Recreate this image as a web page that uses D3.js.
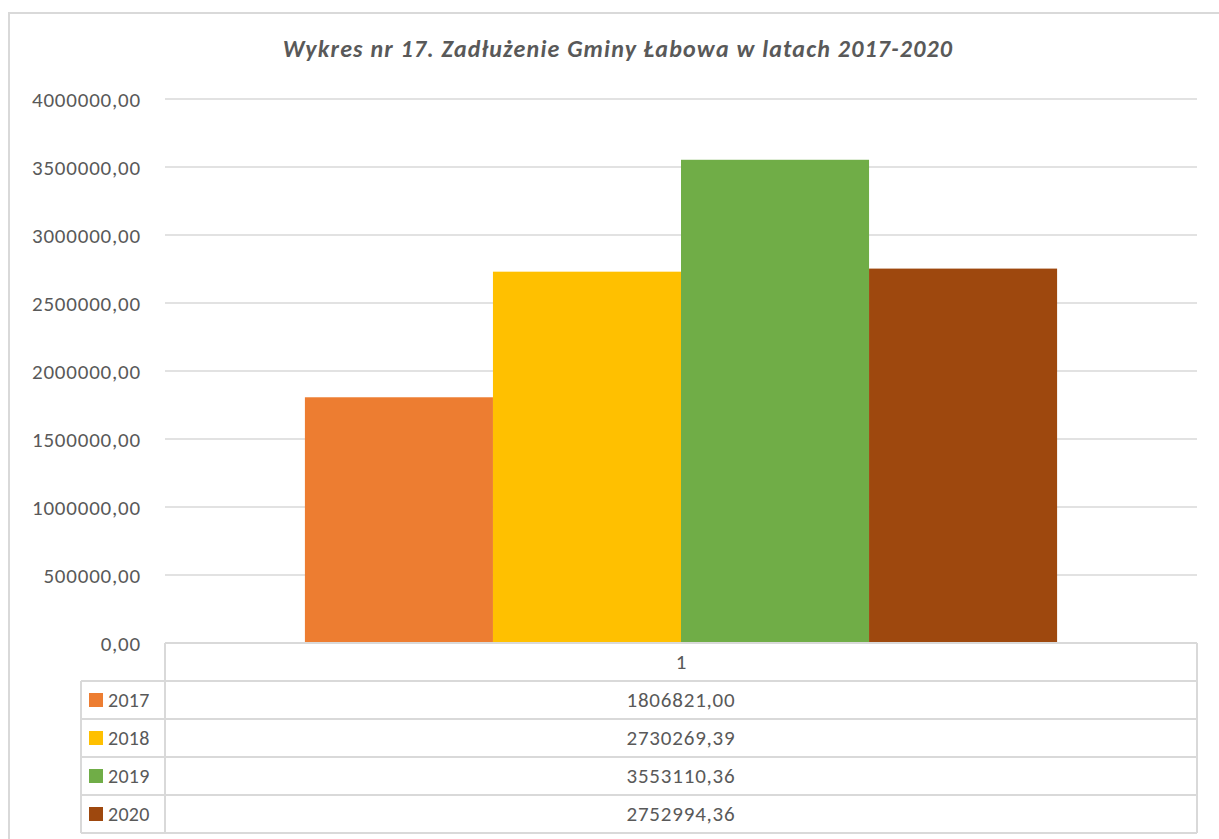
<!DOCTYPE html>
<html><head><meta charset="utf-8">
<script src="https://cdn.jsdelivr.net/npm/d3@7"></script>
<style>body{margin:0;background:#fff;}svg{display:block;}</style>
</head><body>
<svg id="c" width="1219" height="839"></svg>
<script>
const title = "Wykres nr 17. Zadłużenie Gminy Łabowa w latach 2017-2020";
const categories = ["1"];
const seriesNames = ["2017", "2018", "2019", "2020"];
const seriesValues = [1806821.00, 2730269.39, 3553110.36, 2752994.36];
const seriesLabels = ["1806821,00", "2730269,39", "3553110,36", "2752994,36"];
const colors = ["#ED7D31", "#FFC000", "#70AD47", "#9E480E"];
const yTicks = [0, 500000, 1000000, 1500000, 2000000, 2500000, 3000000, 3500000, 4000000];

(function () {
const svg = d3.select("#c");
const font = "Carlito, Calibri, Lato, 'Open Sans', sans-serif";
const txt = "#595959", grid = "#d9d9d9";
const fs = 21, ls_ = "0.8px";

// outer frame
svg.append("rect").attr("x", 9).attr("y", 13).attr("width", 1230).attr("height", 850)
  .attr("fill", "#fff").attr("stroke", grid).attr("stroke-width", 2);

svg.append("text").attr("x", 618).attr("y", 57).attr("text-anchor", "middle")
  .attr("font-family", font).attr("font-size", 24).attr("font-weight", "bold").attr("font-style", "italic")
  .attr("letter-spacing", "1.2px").attr("fill", txt).text(title);

const pLeft = 165, pRight = 1197, pTop = 99, pBottom = 643;
const y = d3.scaleLinear().domain([0, 4000000]).range([pBottom, pTop]);
const x0 = d3.scaleBand().domain(categories).range([pLeft, pRight]).paddingInner(0).paddingOuter(0.186);
const x1 = d3.scaleBand().domain(seriesNames).range([0, x0.bandwidth()]).padding(0);

const fmt = v => d3.format(".2f")(v).replace(".", ",");

// gridlines
svg.append("g").selectAll("line").data(yTicks.filter(d => d > 0)).join("line")
  .attr("x1", pLeft).attr("x2", pRight).attr("y1", d => y(d)).attr("y2", d => y(d))
  .attr("stroke", grid).attr("stroke-width", 1.5);

// y axis labels
const yAxis = d3.axisLeft(y).tickValues(yTicks).tickFormat(fmt).tickSize(0).tickPadding(0);
const ga = svg.append("g").attr("transform", `translate(${141},0)`).call(yAxis);
ga.select(".domain").remove();
ga.selectAll("text").attr("font-family", font).attr("font-size", fs).attr("letter-spacing", ls_)
  .attr("fill", txt).attr("dy", "0.35em");

// bars
const gb = svg.append("g").attr("transform", `translate(${x0(categories[0])},0)`);
gb.selectAll("rect").data(seriesValues).join("rect")
  .attr("x", (d, i) => x1(seriesNames[i])).attr("width", x1.bandwidth())
  .attr("y", d => y(d)).attr("height", d => y(0) - y(d))
  .attr("fill", (d, i) => colors[i]);

// data table
const rowH = 38, tleft = 81;
const tg = svg.append("g");
const ls = (a, b, c, d) => tg.append("line").attr("x1", a).attr("y1", b).attr("x2", c).attr("y2", d)
  .attr("stroke", grid).attr("stroke-width", 2);
ls(pLeft, pBottom, pRight, pBottom);
ls(pLeft, pBottom, pLeft, pBottom + rowH * 5);
ls(pRight, pBottom, pRight, pBottom + rowH * 5);
ls(tleft, pBottom + rowH, tleft, pBottom + rowH * 5);
for (let i = 1; i <= 5; i++) ls(tleft, pBottom + rowH * i, pRight, pBottom + rowH * i);
tg.append("text").attr("x", (pLeft + pRight) / 2).attr("y", pBottom + rowH / 2).attr("dy", "0.35em")
  .attr("text-anchor", "middle").attr("font-family", font).attr("font-size", fs).attr("fill", txt).text(categories[0]);
seriesNames.forEach((s, i) => {
  const cy = pBottom + rowH * (i + 1) + rowH / 2;
  tg.append("rect").attr("x", 89).attr("y", cy - 7).attr("width", 14).attr("height", 14).attr("fill", colors[i]);
  tg.append("text").attr("x", 108).attr("y", cy).attr("dy", "0.35em").attr("font-family", font)
    .attr("font-size", 20).attr("letter-spacing", "0.3px").attr("fill", txt).text(s);
  tg.append("text").attr("x", (pLeft + pRight) / 2).attr("y", cy).attr("dy", "0.35em").attr("text-anchor", "middle")
    .attr("font-family", font).attr("font-size", fs).attr("letter-spacing", ls_).attr("fill", txt).text(seriesLabels[i]);
});
})();
</script>
</body></html>
